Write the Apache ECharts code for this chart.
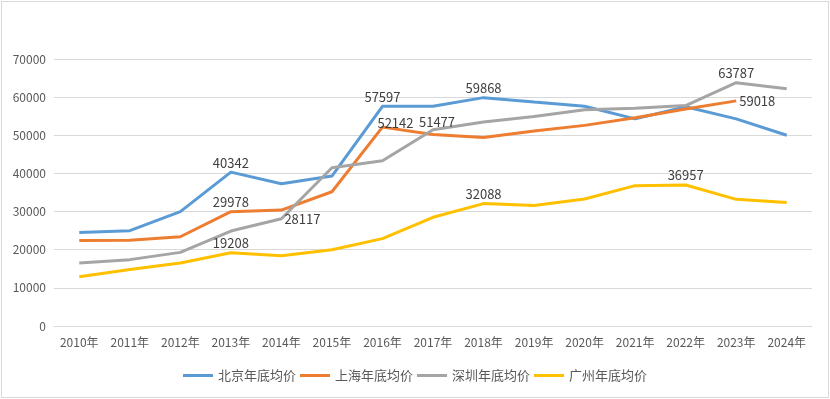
<!DOCTYPE html>
<html>
<head>
<meta charset="utf-8">
<style>
  html, body { margin: 0; padding: 0; background: #fff; }
  #chart { position: absolute; left: 1px; top: 1px; width: 826px; height: 395px; border: 1px solid #d9d9d9; }
</style>
<script src="https://cdn.jsdelivr.net/npm/echarts@6/dist/echarts.min.js"></script>
</head>
<body>
<div id="chart"></div>
<script>
var years = ['2010年', '2011年', '2012年', '2013年', '2014年', '2015年', '2016年', '2017年', '2018年', '2019年', '2020年', '2021年', '2022年', '2023年', '2024年'];
var beijing = [24500, 25000, 30000, 40342, 37300, 39300, 57597, 57600, 59868, 58700, 57600, 54300, 57500, 54300, 50000];
var shanghai = [22400, 22500, 23400, 29978, 30400, 35200, 52142, 50200, 49400, 51100, 52600, 54600, 56900, 59018, null];
var shenzhen = [16500, 17400, 19300, 24900, 28117, 41500, 43300, 51477, 53500, 54900, 56700, 57100, 57800, 63787, 62200];
var guangzhou = [12900, 14800, 16500, 19208, 18400, 20000, 22900, 28500, 32088, 31600, 33300, 36800, 36957, 33200, 32400];

// which points carry a value label
var beijingLabels = [3, 6, 8];
var shanghaiLabels = [3, 6, 13];
var shenzhenLabels = [4, 7, 13];
var guangzhouLabels = [3, 8, 12];

(function () {
  var fontStack = '"Noto Sans CJK SC", "Noto Sans", sans-serif';
  var chart = echarts.init(document.getElementById('chart'), null, { renderer: 'canvas' });

  // opts: { index: { position, offset } }
  function withLabels(values, idx, opts) {
    return values.map(function (v, i) {
      if (idx.indexOf(i) < 0) return v;
      var o = (opts && opts[i]) || {};
      return {
        value: v,
        label: {
          show: true,
          position: o.position || 'top',
          offset: o.offset || [0, 0],
          distance: 3,
          color: '#404040',
          opacity: 1,
          fontFamily: fontStack,
          fontSize: 13
        }
      };
    });
  }

  function line(name, color, data) {
    return {
      name: name,
      type: 'line',
      data: data,
      symbol: 'circle',
      symbolSize: 0,
      showAllSymbol: true,
      connectNulls: false,
      lineStyle: { color: color, width: 3 },
      itemStyle: { color: color },
      emphasis: { disabled: true }
    };
  }

  chart.setOption({
    animation: false,
    color: ['#5B9BD5', '#ED7D31', '#A5A5A5', '#FFC000'],
    grid: { left: 52, right: 16, top: 57, bottom: 71 },
    legend: {
      bottom: 10,
      left: 'center',
      itemWidth: 30,
      itemHeight: 3,
      itemGap: 4,
      icon: 'rect',
      textStyle: { color: '#595959', fontFamily: fontStack, fontSize: 13 },
      data: ['北京年底均价', '上海年底均价', '深圳年底均价', '广州年底均价']
    },
    xAxis: {
      type: 'category',
      data: years,
      boundaryGap: true,
      axisLine: { lineStyle: { color: '#d9d9d9' } },
      axisTick: { show: false },
      axisLabel: { color: '#595959', fontFamily: fontStack, fontSize: 12, margin: 10 }
    },
    yAxis: {
      type: 'value',
      min: 0,
      max: 70000,
      interval: 10000,
      axisLine: { show: false },
      axisTick: { show: false },
      splitLine: { lineStyle: { color: '#d9d9d9' } },
      axisLabel: {
        color: '#595959', fontFamily: fontStack, fontSize: 12, margin: 8,
        formatter: function (v) { return String(v); }
      }
    },
    series: [
      line('北京年底均价', '#5B9BD5', withLabels(beijing, beijingLabels)),
      line('上海年底均价', '#ED7D31', withLabels(shanghai, shanghaiLabels, {
        6: { offset: [13, 5] },
        13: { position: 'right' }
      })),
      line('深圳年底均价', '#A5A5A5', withLabels(shenzhen, shenzhenLabels, {
        4: { position: 'right' },
        7: { offset: [4, 2] }
      })),
      line('广州年底均价', '#FFC000', withLabels(guangzhou, guangzhouLabels))
    ]
  });
})();
</script>
</body>
</html>
